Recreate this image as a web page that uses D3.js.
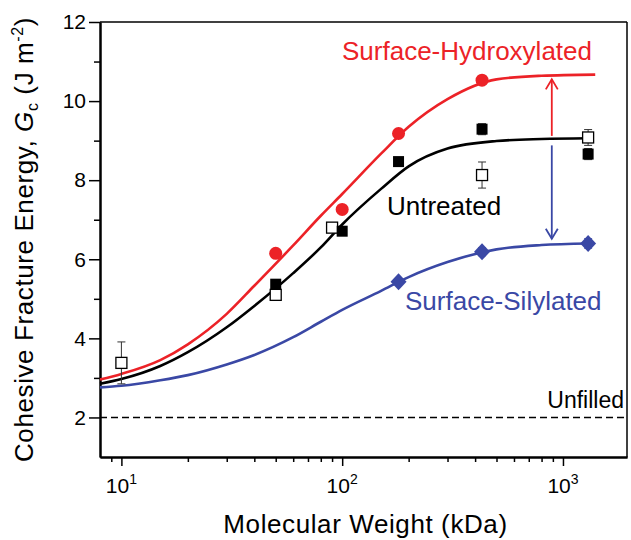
<!DOCTYPE html>
<html><head><meta charset="utf-8">
<script src="https://cdn.jsdelivr.net/npm/d3@7"></script>
<style>
body{margin:0;background:#fff;}
svg{display:block;font-family:"Liberation Sans",Arial,Helvetica,sans-serif;}
</style></head><body>
<svg id="chart" width="631" height="540"></svg>
<script>
// ---------- data ----------
const hydroxM = [50, 100, 180, 430];
const hydroxG = [6.15, 7.26, 9.18, 10.53];

const untreatedM = [50, 100, 180, 430, 1300];
const untreatedG = [5.37, 6.71, 8.47, 9.29, 8.66];
const untreatedErr = [0, 0, 0, 0.14, 0.14];

const openM = [10, 50, 90, 430, 1300];
const openG = [3.38, 5.10, 6.80, 8.13, 9.08];
const openErr = [0.53, 0, 0, 0.33, 0.2];

const silylM = [180, 430, 1300];
const silylG = [5.43, 6.19, 6.40];
const silylErr = [0, 0.1, 0.12];

const fitM = [8, 10, 15, 20, 30, 40, 60, 80, 100, 150, 200, 300, 500, 800, 1300];
const fitHydroxM = [8, 10, 15, 20, 30, 40, 60, 80, 100, 150, 200, 300, 500, 800, 1400];
const fitHydroxG = [2.96, 3.1, 3.45, 3.85, 4.62, 5.33, 6.35, 7.1, 7.65, 8.67, 9.35, 10.05, 10.55, 10.64, 10.67];
const fitUntreatedG = [2.85, 2.97, 3.3, 3.65, 4.28, 4.82, 5.65, 6.3, 6.88, 7.78, 8.35, 8.8, 8.99, 9.04, 9.06];
const fitSilylG = [2.76, 2.80, 2.94, 3.07, 3.34, 3.58, 4.03, 4.42, 4.72, 5.2, 5.55, 5.93, 6.25, 6.36, 6.40];

const unfilledG = 2.0;
const arrowM = 890;
const arrowUpG = [9.12, 10.55];
const arrowDownG = [8.88, 6.52];

const yMajor = [2, 4, 6, 8, 10, 12];
const yMinor = [3, 5, 7, 9, 11];
const xMajor = [10, 100, 1000];
const xMajorExp = ["1", "2", "3"];
const xMinor = [9, 20, 30, 40, 50, 60, 70, 80, 90, 200, 300, 400, 500, 600, 700, 800, 900];

const RED = "#ec2227", BLUE = "#3a48a5", BLACK = "#000";

// ---------- layout ----------
const svg = d3.select("#chart");
const L = 100, R = 627, T = 22, B = 457;
const x = d3.scaleLog().domain([8, 1950]).range([L, R]);
const y = d3.scaleLinear().domain([1, 12]).range([B, T]);

svg.append("rect").attr("width", 631).attr("height", 540).attr("fill", "#fff");

// frame top/right
svg.append("line").attr("x1", L).attr("x2", R).attr("y1", T).attr("y2", T).attr("stroke", "#000").attr("stroke-width", 1.5);
svg.append("line").attr("x1", R).attr("x2", R).attr("y1", T).attr("y2", B).attr("stroke", "#000").attr("stroke-width", 1.5);

// y axis
const gy = svg.append("g").attr("transform", `translate(${L},0)`);
gy.call(d3.axisLeft(y).tickValues(yMajor).tickSize(11).tickSizeOuter(0).tickPadding(3).tickFormat(d3.format("d")));
gy.append("g").call(d3.axisLeft(y).tickValues(yMinor).tickSize(6).tickSizeOuter(0).tickFormat(""));
gy.selectAll(".domain").attr("stroke-width", 2);
gy.selectAll(".tick line").attr("stroke-width", 1.5);
gy.selectAll("text").attr("font-size", 21).attr("font-family", "Liberation Sans, Arial, sans-serif").attr("fill", "#000");

// x axis
const gx = svg.append("g").attr("transform", `translate(0,${B})`);
gx.call(d3.axisBottom(x).tickValues(xMajor).tickSize(9).tickSizeOuter(0).tickFormat(""));
gx.append("g").call(d3.axisBottom(x).tickValues(xMinor).tickSize(5).tickSizeOuter(0).tickFormat(""));
gx.selectAll(".domain").attr("stroke-width", 2);
gx.selectAll(".tick line").attr("stroke-width", 1.5);
xMajor.forEach((v, i) => {
  const t = svg.append("text").attr("x", x(v)).attr("y", 493).attr("text-anchor", "middle")
    .attr("font-size", 21).attr("fill", "#000");
  t.append("tspan").text("10");
  t.append("tspan").attr("dy", -9).attr("font-size", 14).text(xMajorExp[i]);
});

// axis titles
svg.append("text").attr("x", (L + R) / 2 + 2).attr("y", 533).attr("text-anchor", "middle")
  .attr("font-size", 26).attr("letter-spacing", 0.6).text("Molecular Weight (kDa)");

const yt = svg.append("text").attr("transform", `translate(33,${(T + B) / 2}) rotate(-90)`)
  .attr("text-anchor", "middle").attr("font-size", 26).attr("letter-spacing", 0.6);
yt.append("tspan").text("Cohesive Fracture Energy, ");
yt.append("tspan").attr("font-style", "italic").text("G");
yt.append("tspan").attr("font-size", 16).attr("dy", 5).text("c");
yt.append("tspan").attr("dy", -5).text(" (J m");
yt.append("tspan").attr("font-size", 16).attr("dy", -10).text("-2");
yt.append("tspan").attr("dy", 10).text(")");

// unfilled dashed line
svg.append("line").attr("x1", L).attr("x2", R).attr("y1", y(unfilledG)).attr("y2", y(unfilledG))
  .attr("stroke", "#000").attr("stroke-width", 1.5).attr("stroke-dasharray", "7,4");
svg.append("text").attr("x", 624).attr("y", 408).attr("text-anchor", "end").attr("font-size", 23).text("Unfilled");

// fit curves
const line = d3.line().x(d => x(d[0])).y(d => y(d[1])).curve(d3.curveMonotoneX);
function drawFit(ms, gs, color) {
  svg.append("path").datum(ms.map((m, i) => [m, gs[i]])).attr("d", line)
    .attr("fill", "none").attr("stroke", color).attr("stroke-width", 2.6);
}
drawFit(fitM, fitSilylG, BLUE);
drawFit(fitM, fitUntreatedG, BLACK);
drawFit(fitHydroxM, fitHydroxG, RED);

// arrows
function arrow(g0, g1, color) {
  const xa = x(arrowM), y0 = y(g0), y1 = y(g1);
  const dir = y1 < y0 ? 1 : -1;
  svg.append("line").attr("x1", xa).attr("x2", xa).attr("y1", y0).attr("y2", y1)
    .attr("stroke", color).attr("stroke-width", 1.8);
  svg.append("path").attr("d", `M${xa - 6},${y1 + dir * 10}L${xa},${y1}L${xa + 6},${y1 + dir * 10}`)
    .attr("fill", "none").attr("stroke", color).attr("stroke-width", 1.8);
}
arrow(arrowUpG[0], arrowUpG[1], RED);
arrow(arrowDownG[0], arrowDownG[1], BLUE);

// error bars
function errBars(ms, gs, es, color) {
  ms.forEach((m, i) => {
    if (!es[i]) return;
    const cx = x(m), yt = y(gs[i] + es[i]), yb = y(gs[i] - es[i]);
    svg.append("line").attr("x1", cx).attr("x2", cx).attr("y1", yt).attr("y2", yb).attr("stroke", color).attr("stroke-width", 1);
    [yt, yb].forEach(yy => svg.append("line").attr("x1", cx - 4).attr("x2", cx + 4).attr("y1", yy).attr("y2", yy).attr("stroke", color).attr("stroke-width", 1));
  });
}
errBars(openM, openG, openErr, "#333");
errBars(untreatedM, untreatedG, untreatedErr, "#333");
errBars(silylM, silylG, silylErr, BLUE);

// markers
const sq = 11;
svg.selectAll(".open").data(openM.map((m, i) => [m, openG[i]])).enter().append("rect")
  .attr("x", d => x(d[0]) - sq / 2).attr("y", d => y(d[1]) - sq / 2).attr("width", sq).attr("height", sq)
  .attr("fill", "#fff").attr("stroke", "#000").attr("stroke-width", 1.3);
svg.selectAll(".filled").data(untreatedM.map((m, i) => [m, untreatedG[i]])).enter().append("rect")
  .attr("x", d => x(d[0]) - sq / 2).attr("y", d => y(d[1]) - sq / 2).attr("width", sq).attr("height", sq)
  .attr("fill", "#000");
svg.selectAll(".circ").data(hydroxM.map((m, i) => [m, hydroxG[i]])).enter().append("circle")
  .attr("cx", d => x(d[0])).attr("cy", d => y(d[1])).attr("r", 6.5).attr("fill", RED);
svg.selectAll(".dia").data(silylM.map((m, i) => [m, silylG[i]])).enter().append("path")
  .attr("transform", d => `translate(${x(d[0])},${y(d[1])})`)
  .attr("d", "M0,-8.5L8,0L0,8.5L-8,0Z").attr("fill", BLUE);

// annotations
svg.append("text").attr("x", 342).attr("y", 60).attr("font-size", 26).attr("fill", RED).text("Surface-Hydroxylated");
svg.append("text").attr("x", 387).attr("y", 215).attr("font-size", 26).attr("fill", BLACK).text("Untreated");
svg.append("text").attr("x", 405).attr("y", 310).attr("font-size", 26).attr("fill", BLUE).text("Surface-Silylated");
</script>
</body></html>
